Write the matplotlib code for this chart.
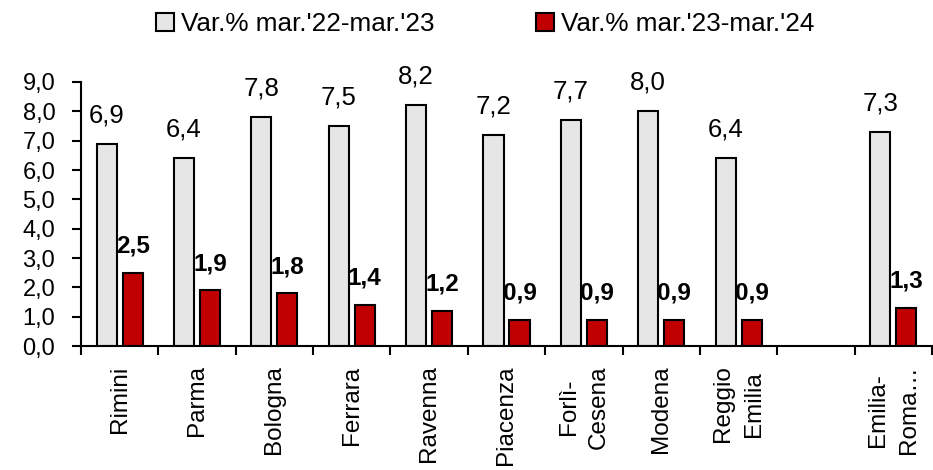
import numpy as np
import matplotlib
matplotlib.use("Agg")
import matplotlib.pyplot as plt
from matplotlib import font_manager
from matplotlib.patches import Patch

names = {f.name for f in font_manager.fontManager.ttflist}
if "Liberation Sans Narrow" in names:
    FONT = "Liberation Sans Narrow"
else:
    FONT = "Liberation Sans"
plt.rcParams["font.family"] = [FONT, "DejaVu Sans"]

categories = ["Rimini", "Parma", "Bologna", "Ferrara", "Ravenna", "Piacenza",
              "Forlì-\nCesena", "Modena", "Reggio\nEmilia", "", "Emilia-\nRoma…"]
var_22_23 = [6.9, 6.4, 7.8, 7.5, 8.2, 7.2, 7.7, 8.0, 6.4, np.nan, 7.3]
var_23_24 = [2.5, 1.9, 1.8, 1.4, 1.2, 0.9, 0.9, 0.9, 0.9, np.nan, 1.3]
legend_labels = ["Var.% mar.'22-mar.'23", "Var.% mar.'23-mar.'24"]

grey = "#E6E6E6"
red = "#C00000"
lw = 1.5

fig = plt.figure(figsize=(9.33, 4.70), dpi=100)
ax = fig.add_axes([81/933, 124/470, 851/933, 264/470])

x = np.arange(len(categories))
w = 0.26
off = 0.168
ax.bar(x - off, var_22_23, w, color=grey, edgecolor="black", linewidth=lw)
ax.bar(x + off, var_23_24, w, color=red, edgecolor="black", linewidth=lw)

# value labels: grey series regular, red series bold
for xi, v in zip(x, var_22_23):
    if np.isnan(v):
        continue
    ax.annotate(f"{v:.1f}".replace(".", ","), (xi - off, v), xytext=(0, 15.5),
                textcoords="offset points", ha="center", va="baseline", fontsize=18.5)
for xi, v in zip(x, var_23_24):
    if np.isnan(v):
        continue
    ax.annotate(f"{v:.1f}".replace(".", ","), (xi + off, v), xytext=(0, 14.5),
                textcoords="offset points", ha="center", va="baseline", fontsize=17.5,
                fontweight="bold")

ax.set_xlim(-0.5, len(categories) - 0.5)
ax.set_ylim(0, 9)
yt = np.arange(0, 9.1, 1)
ax.set_yticks(yt)
ax.set_yticklabels([f"{t:.1f}".replace(".", ",") for t in yt], fontsize=17)
ax.set_xticks(x)
ax.set_xticklabels(categories, rotation=90, fontsize=17.5, va="top", ha="center",
                   multialignment="center", linespacing=1.5)
ax.set_xticks(np.arange(-0.5, len(categories)), minor=True)
ax.tick_params(axis="x", which="major", length=0, pad=14)
ax.tick_params(axis="x", which="minor", length=6.5, width=lw, direction="out")
ax.tick_params(axis="y", length=6.5, width=lw, pad=12)

for s in ["top", "right"]:
    ax.spines[s].set_visible(False)
for s in ["left", "bottom"]:
    ax.spines[s].set_linewidth(lw)

handles = [Patch(facecolor=grey, edgecolor="black", linewidth=lw),
           Patch(facecolor=red, edgecolor="black", linewidth=lw)]
fig.legend(handles, legend_labels, loc="center", bbox_to_anchor=(0.52, 1 - 24/470),
           ncol=2, frameon=False, fontsize=18.8, handlelength=0.7, handleheight=0.7,
           handletextpad=0.25, columnspacing=3.9, borderpad=0.2)

fig.savefig("out.png", dpi=100)
